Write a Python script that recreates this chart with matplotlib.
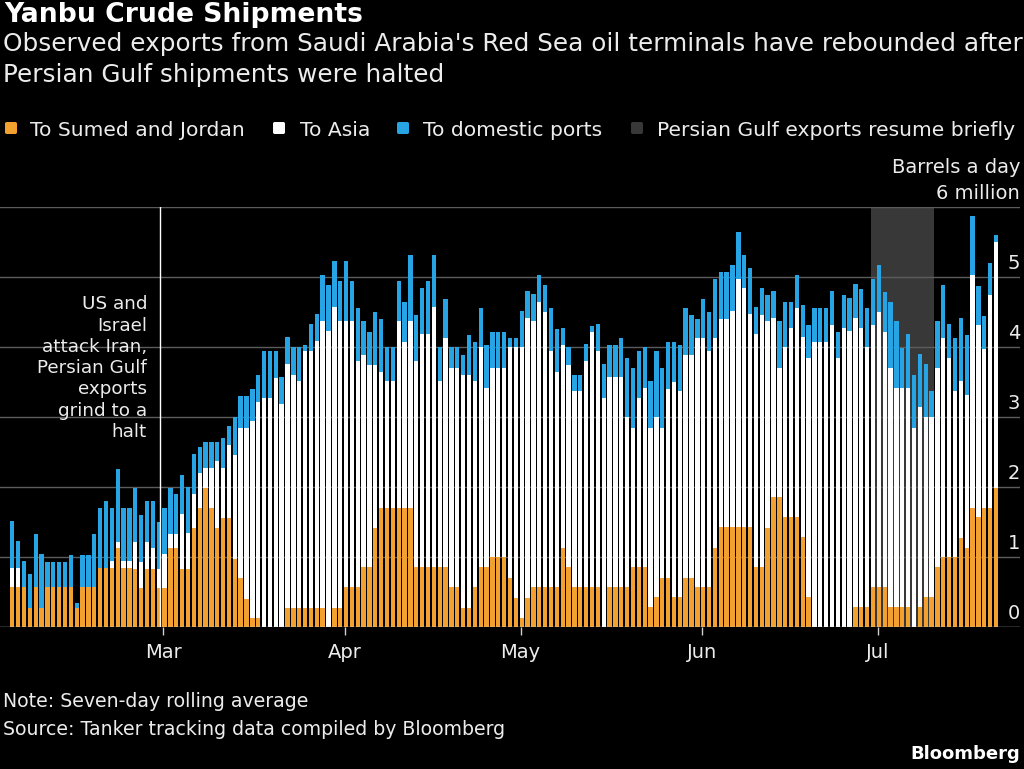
import matplotlib
matplotlib.use("Agg")
import matplotlib.pyplot as plt
from matplotlib.patches import FancyBboxPatch
from matplotlib.transforms import blended_transform_factory
import numpy as np

# ---- data (million barrels a day, seven-day rolling average), daily from 2026-02-03 ----
start_date = "2026-02-03"
sumed_jordan = [
    0.57, 0.57, 0.57, 0.28, 0.57, 0.28, 0.57, 0.57, 0.57, 0.57,
    0.57, 0.28, 0.57, 0.57, 0.57, 0.85, 0.85, 0.85, 1.14, 0.85,
    0.85, 0.84, 0.56, 0.84, 0.84, 0.56, 0.56, 1.13, 1.13, 0.84,
    0.84, 1.42, 1.70, 1.99, 1.70, 1.42, 1.56, 1.56, 0.98, 0.70,
    0.41, 0.13, 0.14, 0.00, 0.00, 0.00, 0.00, 0.28, 0.28, 0.28,
    0.28, 0.28, 0.28, 0.28, 0.00, 0.28, 0.28, 0.57, 0.57, 0.57,
    0.86, 0.86, 1.42, 1.71, 1.71, 1.71, 1.71, 1.71, 1.71, 0.86,
    0.86, 0.86, 0.86, 0.86, 0.86, 0.57, 0.57, 0.28, 0.28, 0.57,
    0.86, 0.86, 1.00, 1.00, 1.00, 0.71, 0.42, 0.14, 0.42, 0.57,
    0.57, 0.57, 0.57, 0.57, 1.14, 0.86, 0.57, 0.57, 0.57, 0.57,
    0.57, 0.00, 0.57, 0.57, 0.57, 0.57, 0.86, 0.86, 0.86, 0.29,
    0.43, 0.71, 0.71, 0.43, 0.43, 0.71, 0.71, 0.57, 0.57, 0.57,
    1.14, 1.43, 1.43, 1.43, 1.43, 1.43, 1.43, 0.86, 0.86, 1.42,
    1.86, 1.86, 1.57, 1.57, 1.57, 1.29, 0.43, 0.00, 0.00, 0.00,
    0.00, 0.00, 0.00, 0.00, 0.29, 0.29, 0.29, 0.57, 0.57, 0.57,
    0.29, 0.29, 0.29, 0.29, 0.00, 0.29, 0.43, 0.43, 0.86, 1.00,
    1.00, 1.00, 1.28, 1.14, 1.70, 1.57, 1.70, 1.70, 1.99,
]
to_asia = [
    0.28, 0.28, 0.00, 0.00, 0.00, 0.00, 0.00, 0.00, 0.00, 0.00,
    0.00, 0.00, 0.00, 0.00, 0.00, 0.00, 0.00, 0.10, 0.08, 0.10,
    0.10, 0.38, 0.38, 0.38, 0.29, 0.28, 0.49, 0.21, 0.21, 0.78,
    0.51, 0.49, 0.50, 0.29, 0.58, 0.96, 0.72, 1.04, 1.48, 2.14,
    2.43, 2.81, 3.08, 3.27, 3.27, 3.56, 3.19, 3.48, 3.33, 3.24,
    3.67, 3.67, 3.81, 4.10, 4.23, 4.29, 4.10, 3.81, 3.81, 3.23,
    3.03, 2.89, 2.33, 1.94, 1.81, 1.81, 2.66, 2.37, 2.66, 2.94,
    3.33, 3.33, 3.71, 2.66, 3.27, 3.14, 3.14, 3.33, 3.33, 2.95,
    3.14, 2.56, 2.71, 2.71, 2.71, 3.29, 3.58, 3.86, 4.00, 3.81,
    4.08, 3.94, 3.37, 3.08, 2.89, 2.89, 2.81, 2.81, 3.23, 3.65,
    3.37, 3.28, 3.00, 3.00, 3.00, 2.43, 1.99, 2.42, 2.56, 2.56,
    2.57, 2.13, 2.70, 3.08, 2.95, 3.18, 3.18, 3.56, 3.56, 3.37,
    2.99, 2.98, 2.98, 3.09, 3.55, 3.42, 3.04, 3.33, 3.60, 2.96,
    2.56, 1.85, 2.43, 2.70, 2.99, 2.85, 3.42, 4.07, 4.07, 4.07,
    4.32, 3.85, 4.27, 4.23, 4.13, 3.98, 3.71, 3.75, 3.94, 3.65,
    3.41, 3.13, 3.13, 3.13, 2.85, 2.85, 2.57, 2.57, 2.85, 3.13,
    2.85, 2.38, 2.24, 2.18, 3.33, 2.75, 2.28, 3.04, 3.51,
]
to_domestic = [
    0.67, 0.39, 0.38, 0.48, 0.76, 0.76, 0.37, 0.37, 0.37, 0.37,
    0.46, 0.06, 0.46, 0.46, 0.76, 0.86, 0.95, 0.76, 1.04, 0.76,
    0.76, 0.77, 0.66, 0.58, 0.67, 0.67, 0.66, 0.65, 0.56, 0.56,
    0.66, 0.56, 0.37, 0.36, 0.36, 0.26, 0.42, 0.28, 0.55, 0.46,
    0.46, 0.46, 0.38, 0.67, 0.67, 0.38, 0.38, 0.38, 0.39, 0.48,
    0.08, 0.38, 0.38, 0.65, 0.66, 0.66, 0.57, 0.85, 0.57, 0.76,
    0.48, 0.47, 0.76, 0.75, 0.48, 0.48, 0.57, 0.57, 0.95, 0.66,
    0.65, 0.76, 0.75, 0.48, 0.56, 0.29, 0.29, 0.28, 0.57, 0.56,
    0.56, 0.61, 0.51, 0.51, 0.51, 0.13, 0.13, 0.52, 0.38, 0.38,
    0.38, 0.38, 0.62, 0.61, 0.24, 0.25, 0.23, 0.23, 0.24, 0.09,
    0.39, 0.48, 0.46, 0.46, 0.56, 0.85, 0.86, 0.67, 0.58, 0.67,
    0.94, 0.86, 0.67, 0.57, 0.65, 0.67, 0.57, 0.28, 0.56, 0.56,
    0.85, 0.67, 0.67, 0.66, 0.66, 0.47, 0.66, 0.38, 0.38, 0.37,
    0.38, 0.67, 0.65, 0.38, 0.47, 0.46, 0.47, 0.49, 0.49, 0.49,
    0.48, 0.37, 0.48, 0.47, 0.48, 0.56, 0.56, 0.66, 0.66, 0.57,
    0.94, 0.95, 0.57, 0.77, 0.76, 0.77, 0.76, 0.38, 0.66, 0.76,
    0.48, 0.75, 0.90, 0.85, 0.85, 0.56, 0.47, 0.47, 0.10,
]
series_labels = ["To Sumed and Jordan", "To Asia", "To domestic ports"]
shade_label = "Persian Gulf exports resume briefly"
month_labels = ["Mar", "Apr", "May", "Jun", "Jul"]
month_starts = ["2026-03-01", "2026-04-01", "2026-05-01", "2026-06-01", "2026-07-01"]
event_date = "2026-02-28"
shade_start, shade_end = "2026-06-30", "2026-07-10"
y_ticks = [0, 1, 2, 3, 4, 5, 6]
annotation_lines = ["US and", "Israel", "attack Iran,", "Persian Gulf",
                    "exports", "grind to a", "halt"]

# ---- style ----
ORANGE = "#F2A030"
WHITE = "#FFFFFF"
BLUE = "#27A4E3"
SHADE = "#383838"
GRID = "#5c5c5c"
TXT = "#ececec"
plt.rcParams["font.family"] = "DejaVu Sans"

d0 = np.datetime64(start_date)
def off(d):
    return float((np.datetime64(d) - d0) / np.timedelta64(1, "D"))

n = len(sumed_jordan)
x = np.arange(n)
a = np.array(sumed_jordan); b = np.array(to_asia); c = np.array(to_domestic)

W, H = 1024, 769
fig = plt.figure(figsize=(W / 100, H / 100), dpi=100, facecolor="black")
ax_bottom = (H - 627.3) / H
ax_top = (H - 207.3) / H
ax = fig.add_axes([0, ax_bottom, 1020 / W, ax_top - ax_bottom], facecolor="black")
ax.set_xlim(-2.1, 172.1)
ax.set_ylim(0, 6)
for s in ax.spines.values():
    s.set_visible(False)

ax.axvspan(off(shade_start) - 0.3, off(shade_end) + 0.4, color=SHADE, zorder=0, lw=0)
for v in y_ticks[1:]:
    ax.axhline(v, color=GRID, lw=1, zorder=1)

bw = 0.74
ax.bar(x, a, width=bw, color=ORANGE, zorder=2, lw=0)
ax.bar(x, b, bottom=a, width=bw, color=WHITE, zorder=2, lw=0)
ax.bar(x, c, bottom=a + b, width=bw, color=BLUE, zorder=2, lw=0)
ax.axhline(0, color="#d0d0d0", lw=1, zorder=3)

ev = off(event_date) + 0.17
ax.plot([ev, ev], [0, 6], color=WHITE, lw=1, zorder=3)
ann_baselines = [309, 330.5, 351.8, 373, 394.3, 415.5, 436.8]
for line, yb in zip(annotation_lines, ann_baselines):
    fig.text(147 / W, 1 - yb / H, line, ha="right", va="baseline", color=TXT,
             fontsize=13.2)

# y labels on the right, above gridlines
tr = blended_transform_factory(ax.transAxes, ax.transData)
for v in y_ticks:
    lab = "6 million" if v == 6 else str(v)
    ax.text(1.0, v + 0.125, lab, transform=tr, ha="right", va="baseline",
            color=TXT, fontsize=14)
fig.text(1020 / W, 1 - 173 / H, "Barrels a day", ha="right", va="baseline",
         color=TXT, fontsize=14)

# x ticks
ax.set_xticks([off(m) - 0.2 for m in month_starts])
ax.set_xticklabels(month_labels)
ax.tick_params(axis="x", colors="#d0d0d0", length=6, width=1, labelsize=14,
               labelcolor=TXT, pad=5)
ax.set_yticks([])

# titles
fig.text(4 / W, 1 - 21.5 / H, "Yanbu Crude Shipments", ha="left", va="baseline",
         color=WHITE, fontsize=19.2, fontweight="bold")
fig.text(3 / W, 1 - 51 / H,
         "Observed exports from Saudi Arabia's Red Sea oil terminals have rebounded after",
         ha="left", va="baseline", color=TXT, fontsize=17.8)
fig.text(3 / W, 1 - 82 / H, "Persian Gulf shipments were halted",
         ha="left", va="baseline", color=TXT, fontsize=17.8)

# legend
leg_items = [(ORANGE, series_labels[0], 5, 30), (WHITE, series_labels[1], 273, 300),
             (BLUE, series_labels[2], 397, 423), (SHADE, shade_label, 631, 657)]
for col, lab, sx, tx in leg_items:
    fig.add_artist(FancyBboxPatch((sx / W, 1 - 134 / H), 12 / W, 12 / H,
                                  boxstyle="round,pad=0,rounding_size=0.002",
                                  transform=fig.transFigure, facecolor=col,
                                  edgecolor="none"))
    fig.text(tx / W, 1 - 136 / H, lab, ha="left", va="baseline", color=TXT,
             fontsize=14.6)

# footer
fig.text(3 / W, 1 - 707 / H, "Note: Seven-day rolling average", ha="left",
         va="baseline", color=TXT, fontsize=13.6)
fig.text(3 / W, 1 - 735 / H, "Source: Tanker tracking data compiled by Bloomberg",
         ha="left", va="baseline", color=TXT, fontsize=13.6)
fig.text(1020 / W, 1 - 759 / H, "Bloomberg", ha="right", va="baseline",
         color=WHITE, fontsize=13, fontweight="bold")

fig.savefig("out.png", dpi=100, facecolor="black")
